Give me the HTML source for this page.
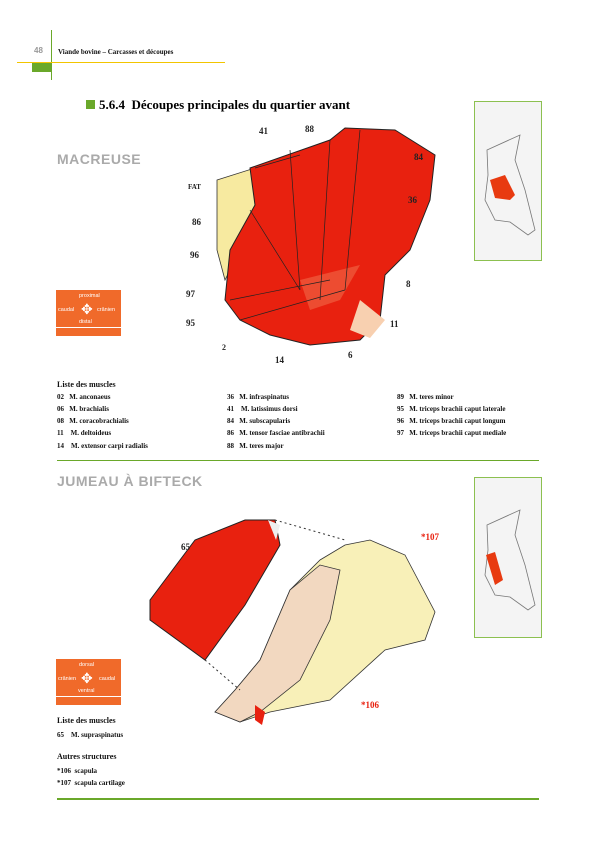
<!DOCTYPE html>
<html><head><meta charset="utf-8"><style>
body{margin:0;background:#fff;}
#p{position:relative;width:595px;height:842px;overflow:hidden;font-family:"Liberation Serif",serif;}
.a{position:absolute;white-space:nowrap;}
.s{font-size:7px;font-weight:bold;color:#111;}
.h{font-family:"Liberation Sans",sans-serif;font-weight:bold;font-size:14px;color:#aaa;letter-spacing:0.5px}
.lbl{font-size:9px;font-weight:bold;color:#222;}
</style></head><body>
<div id="p">
<div class="a" style="left:51px;top:30px;width:1px;height:50px;background:#6aa82a"></div>
<div class="a" style="left:17px;top:62px;width:208px;height:1px;background:#f2c500"></div>
<div class="a" style="left:32px;top:63px;width:19px;height:9px;background:#6aa82a"></div>
<div class="a" style="left:34px;top:46px;font-size:8px;font-weight:bold;color:#999;font-family:'Liberation Sans',sans-serif">48</div>
<div class="a s" style="left:58px;top:48px;">Viande bovine – Carcasses et découpes</div>

<div class="a" style="left:86px;top:100px;width:9px;height:9px;background:#6aa82a"></div>
<div class="a" style="left:99px;top:97px;font-size:13px;font-weight:bold;">5.6.4&nbsp; Découpes principales du quartier avant</div>

<div class="a h" style="left:57px;top:151px">MACREUSE</div>
<div class="a h" style="left:57px;top:473px">JUMEAU À BIFTECK</div>

<svg class="a" style="left:0;top:0" width="595" height="842">
<!-- thumbnails -->
<g>
<rect x="474.5" y="101.5" width="67" height="159" fill="#f4f4f4" stroke="#8cc050"/>
<path d="M487 150 L520 135 L515 160 L525 190 L535 230 L528 235 L510 222 L495 220 L485 200 L488 175Z" fill="none" stroke="#777" stroke-width="0.8"/>
<path d="M490 180 L505 175 L515 195 L510 200 L495 198Z" fill="#e83a10"/>
</g>
<g>
<rect x="474.5" y="477.5" width="67" height="160" fill="#f4f4f4" stroke="#8cc050"/>
<path d="M487 525 L520 510 L515 535 L525 565 L535 605 L528 610 L510 597 L495 595 L485 575 L488 550Z" fill="none" stroke="#777" stroke-width="0.8"/>
<path d="M486 555 L495 552 L503 580 L495 585Z" fill="#e83a10"/>
</g>
<!-- macreuse -->
<g>
<path d="M217 180 L255 168 L262 200 L240 250 L225 280 L217 250Z" fill="#f7eaa0" stroke="#333" stroke-width="0.8"/>
<path d="M250 168 L330 140 L345 128 L395 130 L435 155 L430 200 L410 250 L385 275 L380 320 L360 340 L310 345 L270 335 L240 320 L225 300 L230 250 L255 205Z" fill="#e8210f" stroke="#222" stroke-width="1"/>
<path d="M300 280 L360 265 L340 300 L310 310Z" fill="#f06040" opacity="0.7"/>
<path d="M360 300 L385 320 L370 338 L350 330Z" fill="#f8d0b0"/>
<g stroke="#222" stroke-width="0.7" fill="none">
<path d="M255 168 L300 155 M290 150 L300 290 M330 140 L320 300 M360 130 L345 290 M250 210 L300 290 M230 300 L330 280 M240 320 L345 290"/>
</g>
</g>
<!-- jumeau -->
<g>
<path d="M150 600 L195 540 L245 520 L275 520 L280 545 L245 605 L205 660 L150 620Z" fill="#e8210f" stroke="#222"/>
<path d="M268 520 L280 525 L276 540Z" fill="#eee"/>
<path d="M215 712 L235 690 L260 660 L290 590 L320 560 L345 545 L370 540 L405 555 L435 612 L425 640 L385 650 L330 700 L270 712 L240 722Z" fill="#f8f0b8" stroke="#333" stroke-width="0.8"/>
<path d="M215 712 L235 690 L260 660 L290 590 L320 565 L340 570 L330 620 L300 680 L260 712 L240 722Z" fill="#f2d8c0" stroke="#333" stroke-width="0.8"/>
<path d="M255 705 L265 712 L262 725 L255 720Z" fill="#e8210f"/>
<path d="M275 520 L345 540 M205 660 L240 690" stroke="#333" stroke-dasharray="2,3" fill="none"/>
</g>
</svg>

<div class="a lbl" style="left:259px;top:126px">41</div>
<div class="a lbl" style="left:305px;top:124px">88</div>
<div class="a lbl" style="left:414px;top:152px">84</div>
<div class="a lbl" style="left:408px;top:195px">36</div>
<div class="a lbl" style="left:188px;top:183px;font-size:7px">FAT</div>
<div class="a lbl" style="left:192px;top:217px">86</div>
<div class="a lbl" style="left:190px;top:250px">96</div>
<div class="a lbl" style="left:186px;top:289px">97</div>
<div class="a lbl" style="left:406px;top:279px">8</div>
<div class="a lbl" style="left:186px;top:318px">95</div>
<div class="a lbl" style="left:390px;top:319px">11</div>
<div class="a lbl" style="left:222px;top:343px;font-size:8px">2</div>
<div class="a lbl" style="left:275px;top:355px">14</div>
<div class="a lbl" style="left:348px;top:350px">6</div>
<div class="a lbl" style="left:181px;top:542px">65</div>
<div class="a lbl" style="left:421px;top:532px;color:#e8210f">*107</div>
<div class="a lbl" style="left:361px;top:700px;color:#e8210f">*106</div>

<div class="a" style="left:56px;top:290px;width:65px;height:46px;background:#f06a2a;font-family:'Liberation Sans',sans-serif;font-size:5.5px;color:#fff">
<div class="a" style="left:23px;top:3px">proximal</div><div class="a" style="left:2px;top:17px">caudal</div><div class="a" style="left:41px;top:17px">crânien</div><div class="a" style="left:23px;top:29px">distal</div>
<div class="a" style="left:0;top:37px;width:65px;height:1px;background:#fff"></div>
<div class="a" style="left:25px;top:12px;font-size:14px;line-height:14px">✥</div></div>
<div class="a" style="left:56px;top:659px;width:65px;height:46px;background:#f06a2a;font-family:'Liberation Sans',sans-serif;font-size:5.5px;color:#fff">
<div class="a" style="left:23px;top:3px">dorsal</div><div class="a" style="left:2px;top:17px">crânien</div><div class="a" style="left:43px;top:17px">caudal</div><div class="a" style="left:22px;top:29px">ventral</div>
<div class="a" style="left:0;top:37px;width:65px;height:1px;background:#fff"></div>
<div class="a" style="left:25px;top:12px;font-size:14px;line-height:14px">✥</div></div>

<div>
<div class="a s" style="left:57px;top:380px;font-size:8px">Liste des muscles</div>
<div class="a s" style="left:57px;top:393px">02&nbsp;&nbsp; M. anconaeus</div>
<div class="a s" style="left:57px;top:405px">06&nbsp;&nbsp; M. brachialis</div>
<div class="a s" style="left:57px;top:417px">08&nbsp;&nbsp; M. coracobrachialis</div>
<div class="a s" style="left:57px;top:429px">11&nbsp;&nbsp;&nbsp; M. deltoideus</div>
<div class="a s" style="left:57px;top:442px">14&nbsp;&nbsp;&nbsp; M. extensor carpi radialis</div>
<div class="a s" style="left:227px;top:393px">36&nbsp;&nbsp; M. infraspinatus</div>
<div class="a s" style="left:227px;top:405px">41&nbsp;&nbsp;&nbsp; M. latissimus dorsi</div>
<div class="a s" style="left:227px;top:417px">84&nbsp;&nbsp; M. subscapularis</div>
<div class="a s" style="left:227px;top:429px">86&nbsp;&nbsp; M. tensor fasciae antibrachii</div>
<div class="a s" style="left:227px;top:442px">88&nbsp;&nbsp; M. teres major</div>
<div class="a s" style="left:397px;top:393px">89&nbsp;&nbsp; M. teres minor</div>
<div class="a s" style="left:397px;top:405px">95&nbsp;&nbsp; M. triceps brachii caput laterale</div>
<div class="a s" style="left:397px;top:417px">96&nbsp;&nbsp; M. triceps brachii caput longum</div>
<div class="a s" style="left:397px;top:429px">97&nbsp;&nbsp; M. triceps brachii caput mediale</div>
</div>
<div class="a" style="left:57px;top:460px;width:482px;height:1px;background:#6aa82a"></div>

<div>
<div class="a s" style="left:57px;top:716px;font-size:8px">Liste des muscles</div>
<div class="a s" style="left:57px;top:731px">65&nbsp;&nbsp;&nbsp; M. supraspinatus</div>
<div class="a s" style="left:57px;top:752px;font-size:8px">Autres structures</div>
<div class="a s" style="left:57px;top:767px">*106&nbsp; scapula</div>
<div class="a s" style="left:57px;top:779px">*107&nbsp; scapula cartilage</div>
</div>
<div class="a" style="left:57px;top:798px;width:482px;height:2px;background:#6aa82a"></div>
</div>
</body></html>
